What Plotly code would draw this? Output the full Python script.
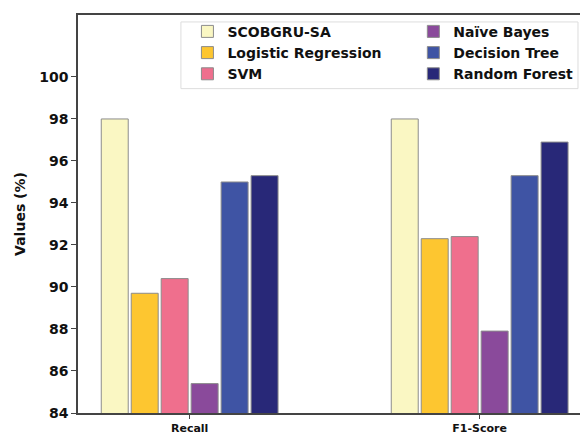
import plotly.graph_objects as go

# Metric groups on the x axis
categories = ["Recall", "F1-Score"]

# Model names and their scores (%) for each metric
models = ["SCOBGRU-SA", "Logistic Regression", "SVM", "Naïve Bayes", "Decision Tree", "Random Forest"]
recall = [98.0, 89.7, 90.4, 85.4, 95.0, 95.3]
f1_score = [98.0, 92.3, 92.4, 87.9, 95.3, 96.9]

colors = ["#FAF7C3", "#FDC630", "#EF6F8D", "#8A4A9B", "#3F54A4", "#282878"]
# first three models go in the left legend column, the rest in the right one
legend_ids = ["legend", "legend", "legend", "legend2", "legend2", "legend2"]

font_family = "DejaVu Sans"
legend_font = dict(family=font_family, size=14, color="#111111", weight="bold")

fig = go.Figure()
for i, name in enumerate(models):
    fig.add_trace(go.Bar(
        x=categories,
        y=[recall[i], f1_score[i]],
        name=name,
        marker=dict(color=colors[i], line=dict(color="#8c8c8c", width=1)),
        legend=legend_ids[i],
    ))

# shared frame around both legend columns
fig.add_shape(
    type="rect", xref="paper", yref="paper",
    x0=0.205, x1=0.996, y0=0.815, y1=0.9825,
    line=dict(color="#dddddd", width=1),
    fillcolor="white", layer="above",
)

legend_common = dict(
    orientation="v",
    xanchor="left", yanchor="top",
    bgcolor="rgba(0,0,0,0)",
    borderwidth=0,
    font=legend_font,
    tracegroupgap=0,
)

fig.update_layout(
    width=580,
    height=435,
    margin=dict(l=78, r=0, t=15, b=20),
    paper_bgcolor="white",
    plot_bgcolor="white",
    barmode="group",
    bargap=0.38,
    bargroupgap=0.1,
    font=dict(family=font_family, color="#111111"),
    showlegend=True,
    legend=dict(x=0.218, y=0.998, **legend_common),
    legend2=dict(x=0.668, y=0.998, **legend_common),
    xaxis=dict(
        type="category",
        range=[-0.385, 1.346],
        showline=True,
        linecolor="#444444",
        linewidth=1.5,
        mirror=True,
        ticks="outside",
        ticklen=4,
        tickcolor="#444444",
        tickfont=dict(family=font_family, size=11, weight="bold"),
        showgrid=False,
    ),
    yaxis=dict(
        range=[84, 102.95],
        tickvals=[84, 86, 88, 90, 92, 94, 96, 98, 100],
        showline=True,
        linecolor="#444444",
        linewidth=1.5,
        ticks="outside",
        ticklen=5,
        tickcolor="#444444",
        tickfont=dict(family=font_family, size=14, weight="bold"),
        showgrid=False,
        zeroline=False,
        title=dict(text="Values (%)", font=dict(family=font_family, size=14, weight="bold"), standoff=10),
    ),
)

fig.write_html("out.html")
